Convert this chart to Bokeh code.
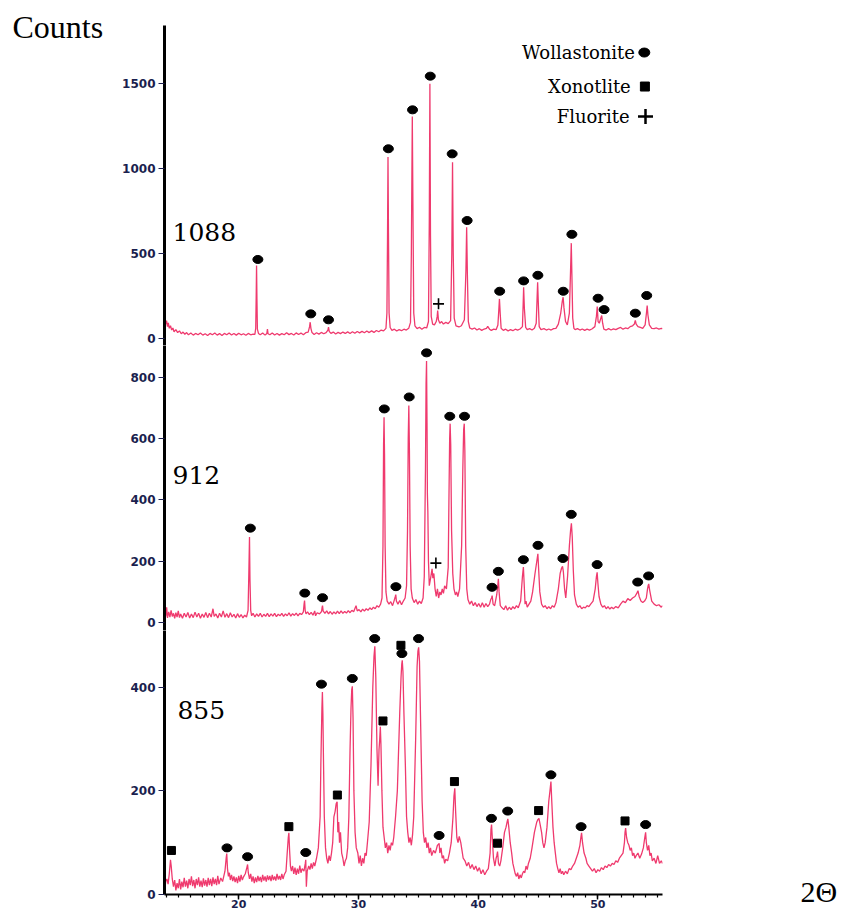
from bokeh.plotting import figure
from bokeh.layouts import column, row
from bokeh.models import FixedTicker, Label, Range1d, Spacer
from bokeh.embed import file_html
from bokeh.resources import INLINE

# ---------------- data ----------------
two_theta_limits = (13.8, 55.4)
x_ticks = [20, 30, 40, 50]
x_minor_ticks = list(range(14, 56))

y_ticks_1088 = [0, 500, 1000, 1500]
y_ticks_912 = [0, 200, 400, 600, 800]
y_ticks_855 = [0, 200, 400]

sample_labels = ["1088", "912", "855"]
legend_labels = ["Wollastonite", "Xonotlite", "Fluorite"]
y_title = "Counts"
x_title = "2Θ"

# (2theta, counts) pairs traced along each pattern
pattern_1088 = [
    (13.82,115),(13.9,85),(13.97,105),(14.05,70),(14.12,92),(14.2,60),(14.3,75),(14.4,50),(14.5,62),(14.6,40),
    (14.75,52),(14.9,35),(15.05,45),(15.2,28),(15.35,38),(15.5,25),(15.65,35),(15.8,22),(16.0,32),(16.2,20),
    (16.4,30),(16.6,22),(16.8,33),(17.0,20),(17.2,28),(17.4,18),(17.6,30),(17.8,22),(18.0,32),(18.2,20),
    (18.4,29),(18.6,18),(18.8,30),(19.0,22),(19.2,33),(19.4,21),(19.6,30),(19.8,20),(20.0,31),(20.2,22),
    (20.4,28),(20.6,19),(20.8,30),(21.0,22),(21.2,26),(21.35,24),
    (21.42,60),(21.46,250),(21.49,429),(21.52,240),(21.56,55),(21.65,30),
    (21.8,22),(22.0,32),(22.2,20),(22.35,30),(22.4,55),(22.45,28),(22.6,22),(22.8,33),(23.0,21),(23.2,30),
    (23.4,20),(23.6,29),(23.8,22),(24.0,34),(24.2,23),(24.4,30),(24.6,21),(24.8,33),(25.0,24),(25.2,32),
    (25.4,22),(25.6,34),(25.8,38),
    (25.92,70),(25.97,96),(26.03,60),(26.12,35),(26.3,24),(26.5,34),(26.7,26),(26.9,36),(27.1,28),(27.3,35),
    (27.45,50),(27.5,67),(27.56,42),(27.7,30),(27.9,38),(28.1,27),(28.3,36),(28.5,29),(28.7,38),(28.9,30),
    (29.1,39),(29.3,30),(29.5,40),(29.7,31),(29.9,41),(30.1,33),(30.3,42),(30.5,34),(30.7,44),(30.9,35),
    (31.1,45),(31.3,36),(31.5,47),(31.7,40),(31.9,50),(32.1,45),(32.3,60),
    (32.38,150),(32.43,600),(32.47,1067),(32.51,620),(32.56,150),(32.65,65),(32.8,48),(33.0,55),(33.2,44),
    (33.4,52),(33.6,46),(33.8,55),(34.0,50),(34.2,60),(34.35,95),
    (34.42,500),(34.5,1306),(34.56,700),(34.62,150),(34.72,75),(34.9,58),(35.1,66),(35.3,55),(35.5,65),
    (35.7,62),(35.85,100),
    (35.92,700),(35.97,1498),(36.02,600),(36.08,130),(36.2,85),(36.35,80),(36.5,100),
    (36.58,130),(36.62,165),(36.68,110),(36.8,90),(36.95,100),(37.1,85),(37.3,95),(37.5,88),(37.7,105),
    (37.8,500),(37.86,1037),(37.92,500),(38.0,120),(38.15,75),(38.4,68),(38.6,75),(38.85,110),
    (38.98,400),(39.04,655),(39.1,380),(39.18,100),(39.3,62),(39.5,55),(39.7,62),(39.9,50),(40.1,58),
    (40.3,48),(40.5,56),(40.7,60),(40.8,72),(40.95,55),(41.1,48),(41.3,55),(41.5,52),(41.65,80),
    (41.72,160),(41.78,233),(41.84,150),(41.92,60),(42.1,48),(42.3,55),(42.5,45),(42.7,52),(42.9,46),
    (43.1,55),(43.3,50),(43.5,56),(43.7,70),
    (43.76,200),(43.8,302),(43.86,180),(43.97,65),(44.1,52),(44.3,58),(44.5,50),(44.7,60),(44.85,90),
    (44.92,230),(44.97,331),(45.03,200),(45.1,70),(45.25,52),(45.5,58),(45.7,50),(45.9,56),(46.1,50),
    (46.3,58),(46.5,60),(46.7,85),(46.9,150),
    (47.03,220),(47.1,243),(47.17,180),(47.3,100),(47.45,80),(47.62,150),
    (47.72,400),(47.78,561),(47.83,380),(47.9,120),(48.0,60),(48.1,52),(48.3,58),(48.5,50),(48.7,56),
    (48.9,48),(49.1,55),(49.3,50),(49.5,56),(49.75,70),
    (49.88,130),(49.95,188),(50.02,100),(50.12,90),(50.25,120),(50.32,135),(50.4,90),(50.5,55),(50.7,50),
    (50.9,58),(51.1,50),(51.3,57),(51.5,52),(51.7,60),(51.9,65),(52.1,55),(52.3,62),(52.5,58),(52.7,70),
    (52.9,75),(53.05,85),
    (53.1,100),(53.13,106),(53.2,85),(53.35,70),(53.55,65),(53.75,60),(53.95,80),
    (54.06,150),(54.12,194),(54.18,140),(54.3,80),(54.5,60),(54.7,58),(54.9,62),(55.1,55),(55.3,60),(55.4,58),
]

pattern_912 = [
    (13.82,45),(13.9,20),(13.98,50),(14.05,15),(14.15,35),(14.25,18),(14.35,40),(14.45,20),(14.55,30),(14.65,14),
    (14.75,32),(14.85,18),(14.95,38),(15.05,16),(15.15,28),(15.3,14),(15.45,30),(15.6,18),(15.75,33),(15.9,15),
    (16.05,28),(16.2,16),(16.35,34),(16.5,18),(16.65,30),(16.8,14),(16.95,28),(17.1,17),(17.25,33),(17.4,16),
    (17.55,30),(17.7,18),(17.85,45),(17.95,20),(18.1,28),(18.25,15),(18.4,30),(18.55,18),(18.7,38),(18.85,17),
    (19.0,29),(19.15,16),(19.3,32),(19.45,18),(19.6,27),(19.75,15),(19.9,29),(20.05,17),(20.2,26),(20.35,15),
    (20.5,24),(20.65,18),(20.78,40),
    (20.84,150),(20.9,279),(20.94,140),(21.0,40),(21.08,22),(21.2,30),(21.35,18),(21.5,28),(21.65,20),
    (21.8,30),(21.95,18),(22.1,27),(22.25,20),(22.4,30),(22.55,19),(22.7,28),(22.85,21),(23.0,30),(23.15,19),
    (23.3,27),(23.45,22),(23.6,30),(23.75,20),(23.9,28),(24.05,22),(24.2,32),(24.35,21),(24.5,29),(24.65,23),
    (24.8,31),(24.95,22),(25.1,30),(25.25,26),(25.4,35),
    (25.46,60),(25.5,72),(25.55,40),(25.62,28),(25.75,35),(25.9,26),(26.05,33),(26.2,24),(26.35,38),(26.42,22),
    (26.55,32),(26.75,28),(26.92,36),
    (26.97,50),(27.0,55),(27.05,38),(27.2,30),(27.35,38),(27.5,28),(27.65,36),(27.8,27),(27.95,35),(28.1,28),
    (28.25,37),(28.4,29),(28.55,38),(28.7,30),(28.85,36),(29.0,31),(29.15,39),(29.3,32),(29.45,40),(29.6,35),
    (29.8,55),(29.9,38),(30.05,42),(30.2,35),(30.35,44),(30.5,37),(30.65,45),(30.8,40),(30.95,48),(31.1,42),
    (31.25,50),(31.4,45),(31.55,55),(31.7,50),(31.85,60),(31.97,80),
    (32.05,250),(32.1,580),(32.14,670),(32.18,550),(32.23,250),(32.3,100),(32.4,70),(32.55,60),(32.7,68),
    (32.85,55),(32.97,70),
    (33.08,85),(33.12,91),(33.17,70),(33.3,60),(33.45,72),(33.6,58),(33.75,70),(33.9,80),(34.02,120),
    (34.1,300),(34.16,600),(34.21,708),(34.26,560),(34.32,250),(34.4,110),(34.5,80),(34.65,65),(34.8,75),
    (34.95,60),(35.1,70),(35.25,62),(35.4,80),(35.5,150),
    (35.6,500),(35.65,780),(35.69,853),(35.73,650),(35.76,420),(35.8,360),(35.85,200),(35.92,120),
    (36.05,150),(36.15,175),(36.22,145),(36.3,160),(36.4,110),(36.5,85),(36.6,110),(36.7,80),(36.8,100),
    (36.9,90),(37.0,110),(37.1,95),(37.2,120),(37.35,110),(37.5,180),
    (37.56,400),(37.62,600),(37.66,649),(37.71,580),(37.78,300),(37.88,160),(37.98,110),(38.1,90),(38.2,100),
    (38.3,85),(38.45,110),(38.62,250),
    (38.72,500),(38.79,630),(38.84,649),(38.89,560),(38.96,250),(39.05,110),(39.15,75),(39.3,60),(39.45,70),
    (39.6,55),(39.75,65),(39.9,52),(40.05,62),(40.2,50),(40.35,65),(40.5,50),(40.65,62),(40.8,52),(40.95,60),
    (41.05,75),
    (41.12,80),(41.17,88),(41.25,60),(41.38,55),(41.55,90),
    (41.64,120),(41.69,143),(41.75,100),(41.85,55),(42.0,48),(42.15,42),(42.3,55),(42.45,40),(42.6,50),
    (42.75,42),(42.9,52),(43.05,45),(43.2,55),(43.35,48),(43.55,70),
    (43.7,150),(43.78,181),(43.84,130),(43.92,60),(44.0,70),(44.1,50),(44.25,60),(44.4,70),(44.55,100),
    (44.75,160),
    (44.9,200),(44.99,224),(45.06,170),(45.15,100),(45.3,60),(45.45,50),(45.6,55),(45.75,45),(45.9,52),
    (46.05,45),(46.2,55),(46.35,50),(46.5,65),(46.7,110),(46.85,160),
    (46.97,178),(47.05,183),(47.12,165),(47.22,110),(47.32,80),(47.47,150),(47.62,250),
    (47.72,300),(47.79,324),(47.86,280),(47.95,170),(48.05,90),(48.2,60),(48.35,50),(48.5,55),(48.65,45),
    (48.8,50),(48.95,48),(49.1,55),(49.25,52),(49.4,60),(49.6,70),(49.78,110),
    (49.88,150),(49.94,164),(50.0,130),(50.1,85),(50.25,60),(50.4,50),(50.55,55),(50.7,45),(50.85,52),
    (51.0,44),(51.15,50),(51.3,45),(51.5,52),(51.7,48),(51.9,60),(52.1,70),(52.3,65),(52.5,78),(52.7,72),
    (52.9,80),(53.1,85),(53.25,95),
    (53.31,100),(53.35,104),(53.45,85),(53.6,70),(53.75,65),(53.9,70),(54.05,80),(54.15,110),
    (54.21,122),(54.25,126),(54.33,105),(54.5,70),(54.7,60),(54.9,55),(55.1,58),(55.3,50),(55.4,55),
]

pattern_855 = [
    (13.82,10),(13.9,25),(14.0,30),(14.1,20),(14.2,40),(14.3,67),(14.36,55),(14.45,30),(14.55,15),(14.65,28),
    (14.75,8),(14.85,22),(14.95,12),(15.05,30),(15.15,10),(15.25,25),(15.35,14),(15.45,32),(15.55,15),(15.65,27),
    (15.75,12),(15.85,30),(15.95,18),(16.05,35),(16.15,16),(16.25,28),(16.35,12),(16.45,30),(16.55,18),(16.65,33),
    (16.75,15),(16.85,27),(16.95,14),(17.05,31),(17.15,17),(17.25,28),(17.35,15),(17.45,32),(17.55,18),(17.65,30),
    (17.75,16),(17.85,33),(17.95,20),(18.05,30),(18.15,18),(18.25,36),(18.35,20),(18.5,32),(18.65,25),(18.85,45),
    (18.95,70),(19.0,79),(19.06,50),(19.14,35),(19.22,42),(19.3,28),(19.4,38),(19.5,26),(19.6,35),(19.7,24),
    (19.8,33),(19.9,22),(20.0,36),(20.1,25),(20.2,38),(20.3,28),(20.4,34),(20.55,40),
    (20.68,52),(20.74,58),(20.8,42),(20.9,30),(21.0,40),(21.1,25),(21.2,35),(21.3,22),(21.4,33),(21.5,24),
    (21.6,36),(21.7,26),(21.8,34),(21.9,24),(22.0,38),(22.1,27),(22.2,35),(22.3,25),(22.4,37),(22.5,28),
    (22.6,36),(22.7,26),(22.8,38),(22.9,28),(23.0,35),(23.1,27),(23.2,40),(23.3,29),(23.4,36),(23.5,28),
    (23.6,40),(23.7,30),(23.8,38),(23.95,45),(24.05,80),
    (24.14,110),(24.19,119),(24.25,85),(24.32,55),(24.4,45),(24.5,55),(24.6,40),(24.7,52),(24.8,38),(24.9,50),
    (25.0,40),(25.1,56),(25.2,42),(25.3,50),(25.45,45),
    (25.56,60),(25.6,67),(25.65,15),(25.72,45),(25.85,55),(25.95,48),(26.05,60),(26.15,50),(26.25,62),(26.35,55),
    (26.5,70),(26.65,90),(26.8,150),
    (26.86,250),(26.9,300),(26.95,360),(26.99,391),(27.03,350),(27.08,260),(27.15,150),(27.25,90),(27.35,70),
    (27.45,60),(27.55,75),(27.65,65),(27.75,80),(27.85,100),(27.95,150),
    (28.05,160),(28.14,175),(28.22,179),(28.28,120),(28.35,140),(28.42,100),(28.5,120),(28.6,80),(28.7,70),
    (28.8,55),(28.9,65),(29.0,70),(29.1,90),(29.2,150),(29.3,280),
    (29.38,360),(29.44,395),(29.49,402),(29.55,340),(29.62,200),(29.72,120),(29.82,90),(29.95,80),(30.05,60),
    (30.15,75),(30.25,55),(30.35,70),(30.45,60),(30.55,80),(30.65,75),(30.75,100),(30.9,140),(31.05,250),
    (31.2,400),
    (31.3,460),(31.37,479),(31.45,420),(31.55,280),(31.64,210),(31.72,280),
    (31.78,300),(31.83,324),(31.88,290),(31.96,200),(32.05,130),(32.15,110),(32.25,90),(32.35,100),(32.45,80),
    (32.55,95),(32.65,85),(32.75,100),(32.85,95),(32.95,110),(33.1,150),(33.25,200),(33.45,350),
    (33.56,420),(33.62,445),(33.66,452),(33.72,430),(33.8,350),(33.92,250),(34.02,150),(34.12,120),
    (34.22,100),(34.32,110),(34.42,95),(34.52,115),(34.62,150),(34.78,300),
    (34.9,440),(34.97,470),(35.03,477),(35.1,450),(35.22,300),(35.32,180),(35.42,120),(35.52,100),
    (35.62,110),(35.72,90),(35.82,100),(35.92,80),(36.02,90),(36.12,75),(36.27,85),(36.42,80),(36.6,95),
    (36.7,97),(36.74,99),(36.8,80),(36.9,90),(37.0,70),(37.1,75),(37.2,60),(37.3,68),(37.45,65),(37.6,80),
    (37.75,100),(37.9,150),
    (37.98,190),(38.05,205),(38.12,160),(38.22,110),(38.32,100),(38.42,112),(38.55,100),(38.65,85),
    (38.75,70),(38.9,65),(39.05,55),(39.2,62),(39.35,50),(39.5,58),(39.65,48),(39.8,55),(39.95,45),
    (40.1,52),(40.25,40),(40.4,48),(40.55,38),(40.7,45),(40.85,50),(41.0,80),
    (41.07,125),(41.12,135),(41.18,110),(41.28,70),(41.4,55),(41.5,70),
    (41.56,75),(41.62,83),(41.7,60),(41.8,55),(41.9,65),(42.05,90),(42.2,120),
    (42.33,130),(42.42,140),(42.48,146),(42.56,130),(42.68,100),(42.8,80),(42.9,60),(43.0,50),(43.1,40),
    (43.2,35),(43.3,42),(43.4,30),(43.5,38),(43.6,32),(43.7,40),(43.8,45),(43.9,42),(44.0,55),(44.1,48),
    (44.2,60),(44.35,70),(44.5,90),(44.7,120),(44.9,140),
    (45.0,145),(45.08,147),(45.18,135),(45.3,120),(45.4,100),(45.5,90),(45.6,100),(45.75,130),(45.9,180),
    (46.0,200),(46.08,218),(46.15,180),(46.25,130),(46.35,100),(46.45,80),(46.55,60),(46.65,50),(46.75,42),
    (46.85,50),(46.95,40),(47.05,45),(47.15,38),(47.3,45),(47.45,40),(47.6,50),(47.75,48),(47.9,55),
    (48.05,60),(48.2,70),(48.35,80),(48.5,95),
    (48.58,110),(48.64,119),(48.72,100),(48.85,80),(49.0,70),(49.1,60),(49.25,55),(49.4,50),(49.55,45),
    (49.7,50),(49.85,42),(50.0,48),(50.15,45),(50.3,52),(50.45,48),(50.6,55),(50.75,52),(50.9,58),
    (51.05,55),(51.2,60),(51.35,58),(51.5,65),(51.65,62),(51.8,70),(51.95,75),(52.1,80),(52.22,100),
    (52.27,120),(52.32,128),(52.4,110),(52.5,100),(52.6,95),(52.7,85),(52.8,90),(52.9,75),(53.0,80),
    (53.1,70),(53.2,75),(53.35,80),(53.5,70),(53.65,78),(53.8,90),
    (53.92,110),(53.99,120),(54.05,100),(54.15,85),(54.25,95),(54.35,75),(54.45,80),(54.55,65),(54.7,70),
    (54.85,60),(55.0,75),(55.15,60),(55.3,65),(55.4,60),
]

# phase markers above the peaks (2theta, counts)
wollastonite_1088_x = [21.6, 26.02, 27.5, 32.5, 34.52, 36.0, 37.83, 39.08, 41.8, 43.8, 44.99, 47.11, 47.83, 50.02, 50.52, 53.13, 54.08]
wollastonite_1088_y = [465, 145, 110, 1116, 1345, 1543, 1086, 694, 278, 339, 372, 278, 613, 237, 170, 149, 253]
fluorite_1088_x = [36.69]
fluorite_1088_y = [204]

wollastonite_912_x = [20.97, 25.52, 27.0, 32.16, 33.13, 34.24, 35.69, 37.63, 38.86, 41.16, 41.69, 43.78, 45.0, 47.08, 47.78, 49.94, 53.33, 54.24]
wollastonite_912_y = [308, 96, 81, 697, 117, 736, 880, 673, 673, 115, 167, 205, 252, 209, 353, 189, 132, 152]
fluorite_912_x = [36.47]
fluorite_912_y = [194]

wollastonite_855_x = [19.02, 20.74, 25.6, 26.91, 29.49, 31.36, 33.63, 35.02, 36.74, 41.11, 42.47, 46.08, 48.6, 53.99]
wollastonite_855_y = [90, 73, 81, 406, 417, 494, 465, 494, 114, 147, 161, 231, 131, 135]
xonotlite_855_x = [14.38, 24.19, 28.24, 32.05, 33.55, 38.02, 41.62, 45.05, 52.27]
xonotlite_855_y = [85, 131, 192, 335, 481, 218, 99, 162, 142]

# ---------------- styling / layout ----------------
LEFT_COL_W = 110
MAIN_W = 630
RIGHT_COL_W = 99
TOTAL_H = 910
MAIN_LEFT = 54       # frame left at 164 px
MAIN_RIGHT = 78      # frame right at 662 px
CURVE = "#ef3a6e"
NAVY = "#1b1f4f"
TICK_FONT = "DejaVu Sans"
SERIF = "DejaVu Serif"

x_range = Range1d(*two_theta_limits)


def make_panel(pattern, y_start, y_end, yticks, height, top, bottom, with_x):
    p = figure(width=MAIN_W, height=height, x_range=x_range, y_range=Range1d(y_start, y_end),
               output_backend="svg", toolbar_location=None,
               x_axis_location="below" if with_x else None,
               min_border_left=MAIN_LEFT, min_border_right=MAIN_RIGHT,
               min_border_top=top, min_border_bottom=bottom)
    p.outline_line_color = None
    p.xgrid.visible = False
    p.ygrid.visible = False
    p.background_fill_color = "white"
    p.border_fill_color = "white"

    ya = p.yaxis[0]
    ya.ticker = FixedTicker(ticks=yticks)
    ya.axis_line_width = 3
    ya.axis_line_color = "black"
    ya.major_tick_out = 6
    ya.major_tick_in = 0
    ya.major_tick_line_color = NAVY
    ya.minor_tick_line_color = None
    ya.major_label_text_color = NAVY
    ya.major_label_text_font = TICK_FONT
    ya.major_label_text_font_size = "12px"
    ya.major_label_text_font_style = "bold"
    ya.major_label_standoff = 3

    if with_x:
        xa = p.xaxis[0]
        xa.ticker = FixedTicker(ticks=x_ticks, minor_ticks=x_minor_ticks)
        xa.axis_line_width = 2
        xa.axis_line_color = "black"
        xa.major_tick_out = 5
        xa.major_tick_in = 0
        xa.minor_tick_out = 3
        xa.minor_tick_in = 0
        xa.major_tick_line_color = "black"
        xa.minor_tick_line_color = "black"
        xa.major_tick_line_width = 1.5
        xa.minor_tick_line_width = 1.2
        xa.major_label_text_color = NAVY
        xa.major_label_text_font = TICK_FONT
        xa.major_label_text_font_size = "11px"
        xa.major_label_text_font_style = "bold"
        xa.major_label_standoff = 0

    xs = [pt[0] for pt in pattern]
    ys = [pt[1] for pt in pattern]
    p.line(xs, ys, line_color=CURVE, line_width=1.3)
    return p


def text_box(width, height, text, tx, ty, font, size):
    f = figure(width=width, height=height, x_range=Range1d(0, width), y_range=Range1d(0, height),
               output_backend="svg", toolbar_location=None, x_axis_location=None, y_axis_location=None,
               min_border=0)
    f.outline_line_color = None
    f.xgrid.visible = False
    f.ygrid.visible = False
    f.add_layout(Label(x=tx, y=ty, text=text, text_font=font, text_font_size=size,
                       text_baseline="middle", text_color="black"))
    return f


def add_circles(p, xs, ys, w=10, h=8):
    p.ellipse(x=xs, y=ys, width=w, height=h, width_units="screen", height_units="screen",
              fill_color="black", line_color="black")


def add_squares(p, xs, ys, size=8):
    p.scatter(x=xs, y=ys, marker="square", size=size, fill_color="black", line_color="black")


def add_crosses(p, xs, ys, size=11, lw=1.6):
    p.scatter(x=xs, y=ys, marker="cross", size=size, line_color="black", line_width=lw)


# panel 1 : 1088
p1 = make_panel(pattern_1088, -41, 1841, y_ticks_1088, 345, 25, 0, False)
add_circles(p1, wollastonite_1088_x, wollastonite_1088_y)
add_crosses(p1, fluorite_1088_x, fluorite_1088_y)
p1.add_layout(Label(x=14.47, y=629, text=sample_labels[0], text_font=SERIF, text_font_size="25px",
                    text_baseline="middle", text_color="black"))
# legend (top right)
legend_text_x = [53.1, 52.75, 52.65]
legend_row_y = [1682, 1482, 1306]
for lbl, lx, ly in zip(legend_labels, legend_text_x, legend_row_y):
    p1.add_layout(Label(x=lx, y=ly, text=lbl, text_font=SERIF, text_font_size="18px",
                        text_align="right", text_baseline="middle", text_color="black"))
add_circles(p1, [53.88], [legend_row_y[0]], w=11, h=9)
add_squares(p1, [53.93], [legend_row_y[1]], size=9)
add_crosses(p1, [53.98], [legend_row_y[2]], size=15, lw=2.5)

# panel 2 : 912
p2 = make_panel(pattern_912, -26, 904, y_ticks_912, 285, 0, 0, False)
add_circles(p2, wollastonite_912_x, wollastonite_912_y)
add_crosses(p2, fluorite_912_x, fluorite_912_y)
p2.add_layout(Label(x=14.47, y=483, text=sample_labels[1], text_font=SERIF, text_font_size="25px",
                    text_baseline="middle", text_color="black"))

# panel 3 : 855
p3 = make_panel(pattern_855, 0, 509.6, y_ticks_855, 280, 0, 15, True)
add_circles(p3, wollastonite_855_x, wollastonite_855_y)
add_squares(p3, xonotlite_855_x, xonotlite_855_y)
p3.add_layout(Label(x=14.88, y=356, text=sample_labels[2], text_font=SERIF, text_font_size="25px",
                    text_baseline="middle", text_color="black"))

# outer text: "Counts" (top left) and "2Θ" (bottom right)
BOX_H = 50
counts_box = text_box(LEFT_COL_W, BOX_H, y_title, 12, BOX_H - 26, "Liberation Serif", "32px")
theta_box = text_box(RIGHT_COL_W, BOX_H, x_title, 60, 19, "Liberation Serif", "30px")

left_col = column(counts_box, Spacer(width=LEFT_COL_W, height=TOTAL_H - BOX_H), spacing=0)
main_col = column(p1, p2, p3, spacing=0)
right_col = column(Spacer(width=RIGHT_COL_W, height=TOTAL_H - BOX_H), theta_box, spacing=0)

layout = row(left_col, main_col, right_col, spacing=0)
open("out.html", "w").write(file_html(layout, INLINE))
